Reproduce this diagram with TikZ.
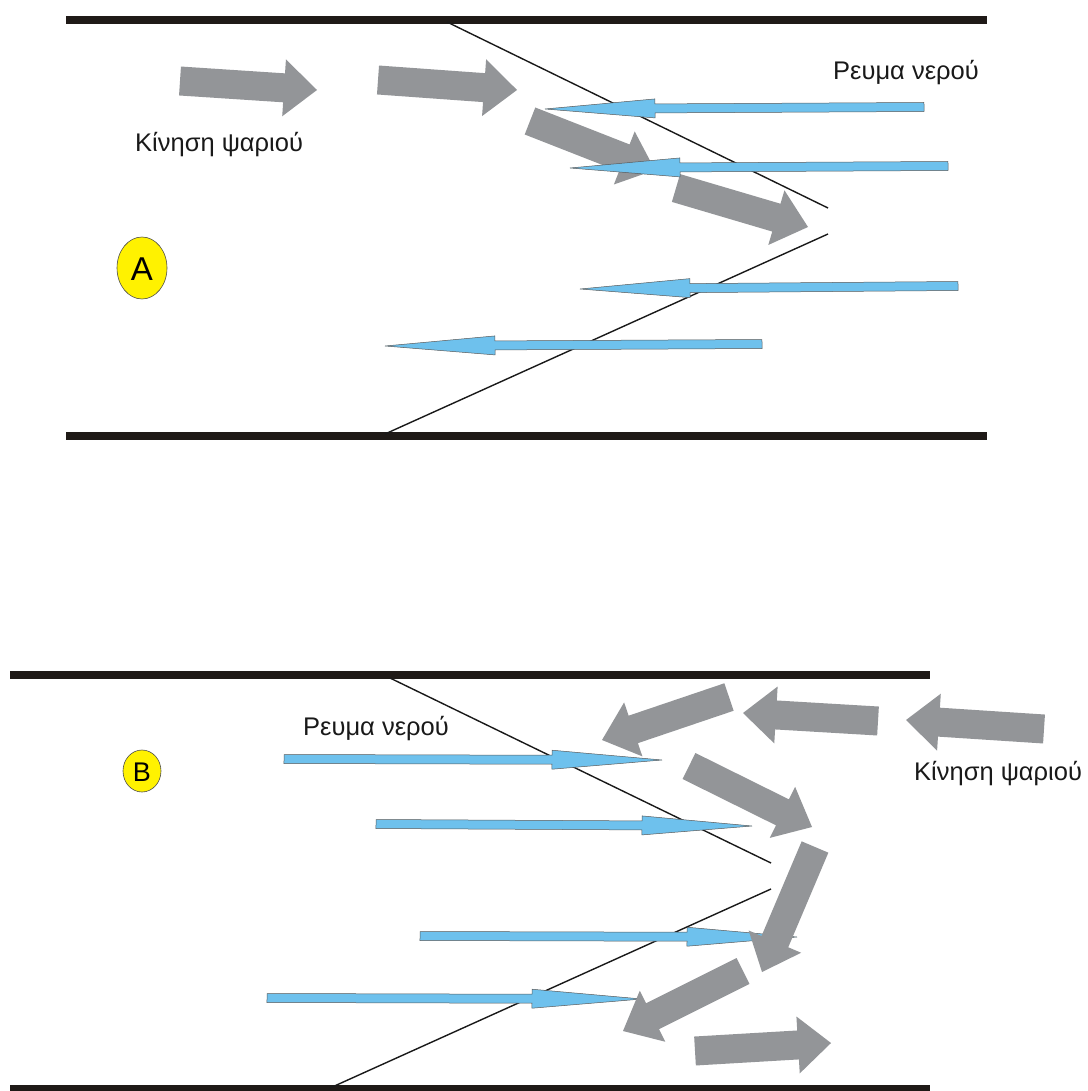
\documentclass[tikz,border=0pt]{standalone}
\usepackage{fontspec}
\setmainfont{Liberation Sans}
\usetikzlibrary{calc}
\definecolor{fishgray}{HTML}{939598}
\definecolor{water}{HTML}{6EC1ED}
\definecolor{wall}{HTML}{1F1A17}
\definecolor{badge}{HTML}{FFF200}
% fat grey arrow: tail point, tip point
\newcommand\fisharrow[2]{%
  \coordinate (fab) at ($(#2)!33pt!(#1)$);
  \fill[fishgray] ($(#1)!14.5pt!90:(#2)$) -- ($(fab)!14.5pt!90:(#2)$) -- ($(fab)!28.5pt!90:(#2)$)
    -- (#2) -- ($(fab)!28.5pt!-90:(#2)$) -- ($(fab)!14.5pt!-90:(#2)$) -- ($(#1)!14.5pt!-90:(#2)$) -- cycle;
}
% thin blue arrow: tail point, tip point
\newcommand\waterarrow[2]{%
  \coordinate (wab) at ($(#2)!110pt!(#1)$);
  \filldraw[fill=water, draw=black!65, line width=0.5pt, line join=miter]
    ($(#1)!4.5pt!90:(#2)$) -- ($(wab)!4.5pt!90:(#2)$) -- ($(wab)!9.5pt!90:(#2)$)
    -- (#2) -- ($(wab)!9.5pt!-90:(#2)$) -- ($(wab)!4.5pt!-90:(#2)$) -- ($(#1)!4.5pt!-90:(#2)$) -- cycle;
}
\tikzset{
  wallline/.style={draw=wall, line width=8pt, line cap=butt},
  gateline/.style={draw=black!90, line width=1.4pt},
  label/.style={font=\fontsize{25.5}{30}\selectfont, inner sep=0pt, text=black!90},
  badgeshape/.style={draw=black!70, fill=badge, line width=0.6pt},
}
\begin{document}
\begin{tikzpicture}[x=1pt, y=-1pt]
\useasboundingbox (0,0) rectangle (1087,1091);
\fill[white] (0,0) rectangle (1087,1091);

% ===== Panel A =====
\draw[wallline] (66,20) -- (987,20);
\draw[wallline] (66,436) -- (987,436);
\draw[gateline] (447,22) -- (828,208);
\draw[gateline] (828,234) -- (385,434);

\fisharrow{180,81}{317,90}
\fisharrow{378,80}{517,90}
\fisharrow{530,121}{655,170}
\fisharrow{676,188}{808,227}

\waterarrow{924,107}{545,109}
\waterarrow{948,166}{570,168}
\waterarrow{958,286}{580,289}
\waterarrow{762,344}{385,346}

\path[badgeshape] (142,268) ellipse [x radius=25, y radius=31];
\node[font=\fontsize{33}{36}\selectfont, inner sep=0pt] (la) at (142,269) {A};
\node[label, anchor=base west] (fishA) at (135,152) {Κίνηση ψαριού};
\node[label, anchor=base west] (waterA) at (833,80) {Ρευμα νερού};

% ===== Panel B =====
\draw[wallline] (10,675) -- (930,675);
\draw[wallline] (10,1089) -- (930,1089);
\draw[gateline] (390,678) -- (771,863);
\draw[gateline] (771,889) -- (330,1088);

\waterarrow{284,759}{662,760}
\waterarrow{376,824}{752,826}
\waterarrow{420,936}{797,937}
\waterarrow{267,998}{642,999}

\fisharrow{729,697}{602,740}
\fisharrow{878,721}{743,713}
\fisharrow{1044,729}{906,720}
\fisharrow{689,766}{812,827}
\fisharrow{815,847}{762,972}
\fisharrow{743,971}{623,1031}
\fisharrow{695,1051}{831,1043}

\path[badgeshape] (142,771) ellipse [x radius=19, y radius=21];
\node[font=\fontsize{27}{30}\selectfont, inner sep=0pt] (lb) at (142,772) {B};
\node[label, anchor=base west] (waterB) at (303,735) {Ρευμα νερού};
\node[label, anchor=base west] (fishB) at (914,780) {Κίνηση ψαριού};
\end{tikzpicture}
\end{document}
